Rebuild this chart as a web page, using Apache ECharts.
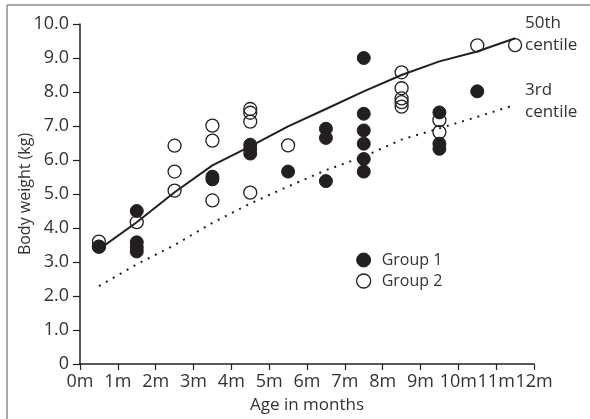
<!DOCTYPE html>
<html>
<head>
<meta charset="utf-8">
<script src="https://cdn.jsdelivr.net/npm/echarts@6/dist/echarts.min.js"></script>
<style>
  html, body { margin: 0; padding: 0; background: #fff; }
  #chart { width: 590px; height: 419px; }
</style>
</head>
<body>
<div id="chart"></div>
<script>
// age (months) / body weight (kg)
const group1 = [
  [0.5, 3.45],
  [1.5, 4.5], [1.5, 3.58], [1.5, 3.43], [1.5, 3.31],
  [3.5, 5.51], [3.5, 5.43],
  [4.5, 6.45], [4.5, 6.33], [4.5, 6.19],
  [5.5, 5.66],
  [6.5, 6.92], [6.5, 6.65], [6.5, 5.38],
  [7.5, 9.0], [7.5, 7.36], [7.5, 6.87], [7.5, 6.48], [7.5, 6.03], [7.5, 5.66],
  [9.5, 7.4], [9.5, 6.48], [9.5, 6.33],
  [10.5, 8.02]
];
const group2 = [
  [0.5, 3.6], [0.5, 3.45],
  [1.5, 4.17],
  [2.5, 6.42], [2.5, 5.66], [2.5, 5.1],
  [3.5, 7.01], [3.5, 6.57], [3.5, 4.81],
  [4.5, 7.5], [4.5, 7.39], [4.5, 7.13], [4.5, 5.04],
  [5.5, 6.43],
  [8.5, 8.58], [8.5, 8.11], [8.5, 7.81], [8.5, 7.7], [8.5, 7.57],
  [9.5, 7.17], [9.5, 6.82],
  [10.5, 9.37],
  [11.5, 9.38]
];
const centileAges = [0.5, 1.5, 2.5, 3.5, 4.5, 5.5, 6.5, 7.5, 8.5, 9.5, 10.5, 11.5];
const centile50 = [3.37, 4.17, 5.05, 5.84, 6.4, 6.99, 7.5, 8.02, 8.5, 8.9, 9.19, 9.58];
const centile3 = [2.29, 2.93, 3.5, 4.15, 4.72, 5.22, 5.7, 6.1, 6.6, 6.93, 7.27, 7.62];
const yTickLabels = ['0', '1.0', '2.0', '3.0', '4.0', '5.0', '6.0', '7.0', '8.0', '9.0', '10.0'];

const font = '"Open Sans", sans-serif';
const ink = '#231f20';
const textInk = '#333';

const chart = echarts.init(document.getElementById('chart'));
chart.setOption({
  animation: false,
  textStyle: { fontFamily: font, color: textInk },
  grid: { left: 80, right: 56, top: 24, bottom: 54 },
  legend: {
    orient: 'vertical',
    left: 356,
    top: 252,
    padding: 0,
    itemGap: 5,
    itemWidth: 14,
    itemHeight: 14,
    textStyle: { fontFamily: font, fontSize: 16, color: textInk, padding: [0, 0, 0, 6] },
    data: [
      { name: 'Group 1', icon: 'circle', itemStyle: { color: ink, borderColor: ink, borderWidth: 1 } },
      { name: 'Group 2', icon: 'circle', itemStyle: { color: '#fff', borderColor: ink, borderWidth: 1.3 } }
    ]
  },
  xAxis: {
    type: 'value',
    min: 0,
    max: 12,
    interval: 1,
    name: 'Age in months',
    nameLocation: 'middle',
    nameGap: 33,
    nameMoveOverlap: false,
    nameTextStyle: { fontSize: 17, color: textInk },
    splitLine: { show: false },
    axisLine: { lineStyle: { color: ink, width: 1.5 } },
    axisTick: { length: 6, lineStyle: { color: ink, width: 1.2 } },
    axisLabel: { fontSize: 18, color: textInk, margin: 9, formatter: v => v + 'm' }
  },
  yAxis: {
    type: 'value',
    min: 0,
    max: 10,
    interval: 1,
    name: 'Body weight (kg)',
    nameLocation: 'middle',
    nameGap: 47,
    nameMoveOverlap: false,
    nameTextStyle: { fontSize: 16, color: textInk },
    splitLine: { show: false },
    axisLine: { show: true, lineStyle: { color: ink, width: 1.5 } },
    axisTick: { show: true, length: 7, lineStyle: { color: ink, width: 1.2 } },
    axisLabel: { fontSize: 18, color: textInk, margin: 11, formatter: v => yTickLabels[Math.round(v)] }
  },
  series: [
    {
      name: '50th centile',
      type: 'line',
      data: centileAges.map((a, i) => [a, centile50[i]]),
      showSymbol: false,
      lineStyle: { color: ink, width: 2 },
      z: 3
    },
    {
      name: '3rd centile',
      type: 'line',
      data: centileAges.map((a, i) => [a, centile3[i]]),
      showSymbol: false,
      lineStyle: { color: ink, width: 2, type: [2, 6] },
      z: 3
    },
    {
      name: 'Group 1',
      type: 'scatter',
      data: group1,
      symbolSize: 13,
      itemStyle: { color: ink, borderColor: ink, borderWidth: 1, opacity: 1 },
      z: 4
    },
    {
      name: 'Group 2',
      type: 'scatter',
      data: group2,
      symbolSize: 13,
      itemStyle: { color: 'rgba(255,255,255,0)', borderColor: ink, borderWidth: 1.3, opacity: 1 },
      z: 5
    }
  ],
  graphic: [
    { type: 'line', shape: { x1: 7, y1: 5, x2: 590, y2: 5 }, style: { stroke: '#8a8a8a', lineWidth: 1.5 } },
    { type: 'line', shape: { x1: 7, y1: 5, x2: 7, y2: 419 }, style: { stroke: '#8a8a8a', lineWidth: 1.5 } },
    { type: 'text', left: 525, top: 12, style: { text: '50th\ncentile', font: '17px ' + font, fill: textInk, lineHeight: 22 } },
    { type: 'text', left: 525, top: 79, style: { text: '3rd\ncentile', font: '17px ' + font, fill: textInk, lineHeight: 22 } }
  ]
});
</script>
</body>
</html>
